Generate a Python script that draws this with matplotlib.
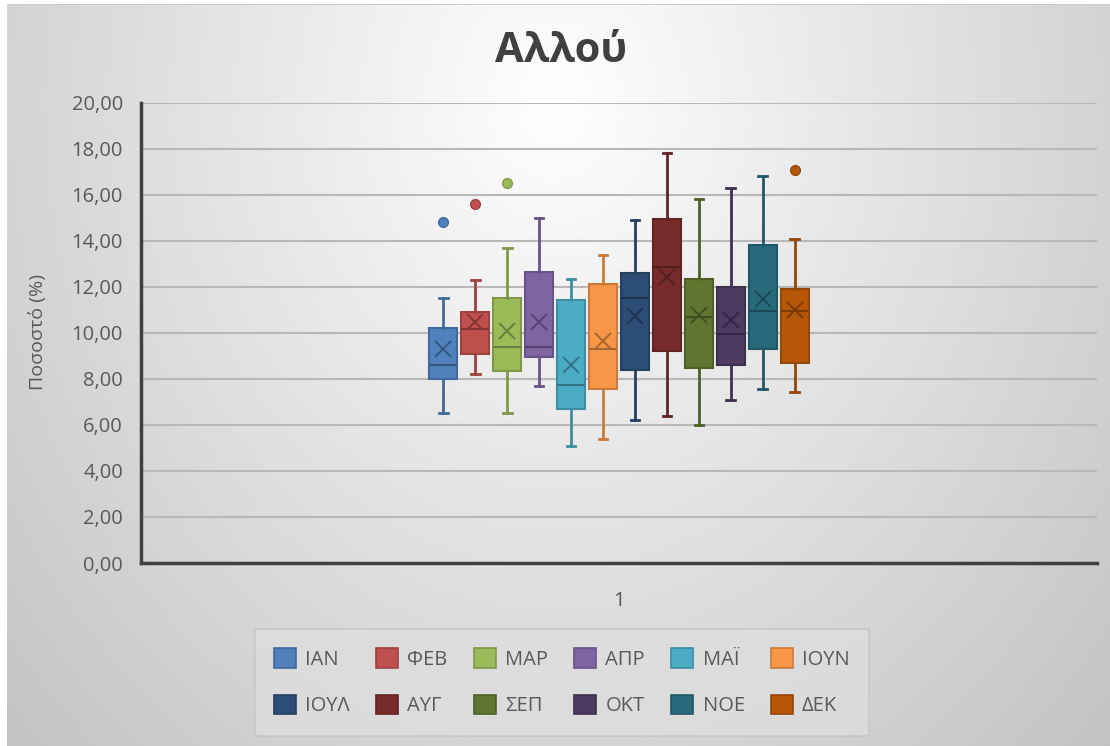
import matplotlib
matplotlib.use("Agg")
import matplotlib.pyplot as plt
from matplotlib.patches import Patch
from matplotlib.colors import to_rgb
import numpy as np

plt.rcParams['font.family'] = ['Open Sans', 'DejaVu Sans']

# Box plot values per month
months = ['ΙΑΝ', 'ΦΕΒ', 'ΜΑΡ', 'ΑΠΡ', 'ΜΑΪ', 'ΙΟΥΝ',
          'ΙΟΥΛ', 'ΑΥΓ', 'ΣΕΠ', 'ΟΚΤ', 'ΝΟΕ', 'ΔΕΚ']
whis_lo = [6.50, 8.20, 6.50, 7.70, 5.10, 5.40, 6.20, 6.40, 6.00, 7.10, 7.58, 7.41]
q1 = [8.00, 9.07, 8.33, 8.95, 6.71, 7.58, 8.37, 9.21, 8.46, 8.59, 9.31, 8.69]
median = [8.60, 10.15, 9.39, 9.40, 7.75, 9.31, 11.51, 12.88, 10.69, 9.93, 10.93, 10.93]
q3 = [10.20, 10.90, 11.50, 12.64, 11.41, 12.13, 12.61, 14.95, 12.36, 11.99, 13.81, 11.89]
whis_hi = [11.50, 12.30, 13.70, 15.00, 12.35, 13.40, 14.91, 17.80, 15.81, 16.31, 16.83, 14.09]
means = [9.30, 10.47, 10.08, 10.46, 8.60, 9.63, 10.72, 12.42, 10.76, 10.54, 11.48, 10.98]
outliers = [[14.8], [15.6], [16.5], [], [], [], [], [], [], [], [], [17.09]]

colors = ['#4F81BD', '#C0504D', '#9BBB59', '#8064A2', '#4BACC6', '#F79646',
          '#2C4D75', '#772C2A', '#5F7530', '#4D3B62', '#276A7C', '#B65708']

yticks = np.arange(0, 21, 2)


def darker(c, f):
    r, g, b = to_rgb(c)
    return (r * f, g * f, b * f)


fig = plt.figure(figsize=(11.1, 7.46), dpi=100)

# background gradient panel
bg = fig.add_axes([0, 0, 1, 1], zorder=-10)
W, H = 1110, 746
yy, xx = np.mgrid[0:H, 0:W]
d = np.sqrt(((xx - 555) / 700.0) ** 2 + ((yy - 100) / 850.0) ** 2)
shade = np.clip(255 - 55 * d, 0, 255) / 255.0
img = np.dstack([shade, shade, shade])
img[:4, :, :] = 1.0
img[:, :7, :] = 1.0
img[4, 7:, :] = 0.80
bg.imshow(img, extent=(0, W, H, 0), aspect='auto', interpolation='bilinear')
bg.set_xlim(0, W)
bg.set_ylim(H, 0)
bg.axis('off')

ax = fig.add_axes([141 / W, 1 - 563 / H, (1097 - 141) / W, (563 - 102.7) / H])
ax.set_facecolor('none')

step = 0.03347
positions = [1 + (i - 5.5) * step for i in range(len(months))]

for i in range(len(months)):
    c = colors[i]
    edge = darker(c, 0.82)
    dark = darker(c, 0.68)
    st = dict(med=median[i], q1=q1[i], q3=q3[i], whislo=whis_lo[i],
              whishi=whis_hi[i], mean=means[i], fliers=outliers[i],
              label=months[i])
    ax.bxp([st], positions=[positions[i]], widths=0.0303, capwidths=0.0094,
           patch_artist=True, showmeans=True, manage_ticks=False,
           boxprops=dict(facecolor=c, edgecolor=edge, linewidth=1.5),
           whiskerprops=dict(color=edge, linewidth=2),
           capprops=dict(color=edge, linewidth=2),
           medianprops=dict(color=dark, linewidth=1.5),
           meanprops=dict(marker='x', markeredgecolor=dark, markersize=12,
                          markeredgewidth=1.4),
           flierprops=dict(marker='o', markerfacecolor=c, markeredgecolor=edge,
                           markersize=7))

ax.set_xlim(0.5, 1.5)
ax.set_ylim(0, 20)
ax.set_yticks(yticks)
ax.set_yticklabels([('%.2f' % v).replace('.', ',') for v in yticks])
ax.set_xticks([1])
ax.set_xticklabels(['1'])
ax.tick_params(axis='y', length=0, pad=13, labelsize=14.5, labelcolor='#595959')
ax.tick_params(axis='x', length=0, pad=20, labelsize=14.5, labelcolor='#595959')
ax.yaxis.grid(True, color='#b8b8b8', linewidth=1.5)
ax.set_axisbelow(True)
for s in ['top', 'right']:
    ax.spines[s].set_visible(False)
for s in ['left', 'bottom']:
    ax.spines[s].set_color('#404040')
    ax.spines[s].set_linewidth(2.5)

fig.text(561 / W, 1 - 52 / H, 'Αλλού', ha='center', va='center', fontsize=30,
         fontweight='bold', color='#404040')
fig.text(38 / W, 1 - 332 / H, 'Ποσοστό (%)', ha='center', va='center',
         rotation=90, fontsize=14, color='#595959')

# legend fills column by column, so reorder to read row by row
ncol = 6
order = [r * ncol + c for c in range(ncol) for r in range(2)]
handles = [Patch(facecolor=colors[i], edgecolor=darker(colors[i], 0.82), linewidth=1.2)
           for i in order]
labels = [months[i] for i in order]
leg = fig.legend(handles, labels, loc='upper center', ncol=ncol,
                 bbox_to_anchor=(562 / W, 1 - 619 / H), fontsize=14.5,
                 handlelength=1.1, handleheight=1.1, handletextpad=0.45,
                 columnspacing=1.3, labelspacing=1.25, borderpad=0.95,
                 frameon=True, fancybox=False, labelcolor='#595959')
leg.get_frame().set_facecolor('#dedede')
leg.get_frame().set_edgecolor('#c4c4c4')
leg.get_frame().set_linewidth(1.2)

fig.savefig('out.png', dpi=100)
